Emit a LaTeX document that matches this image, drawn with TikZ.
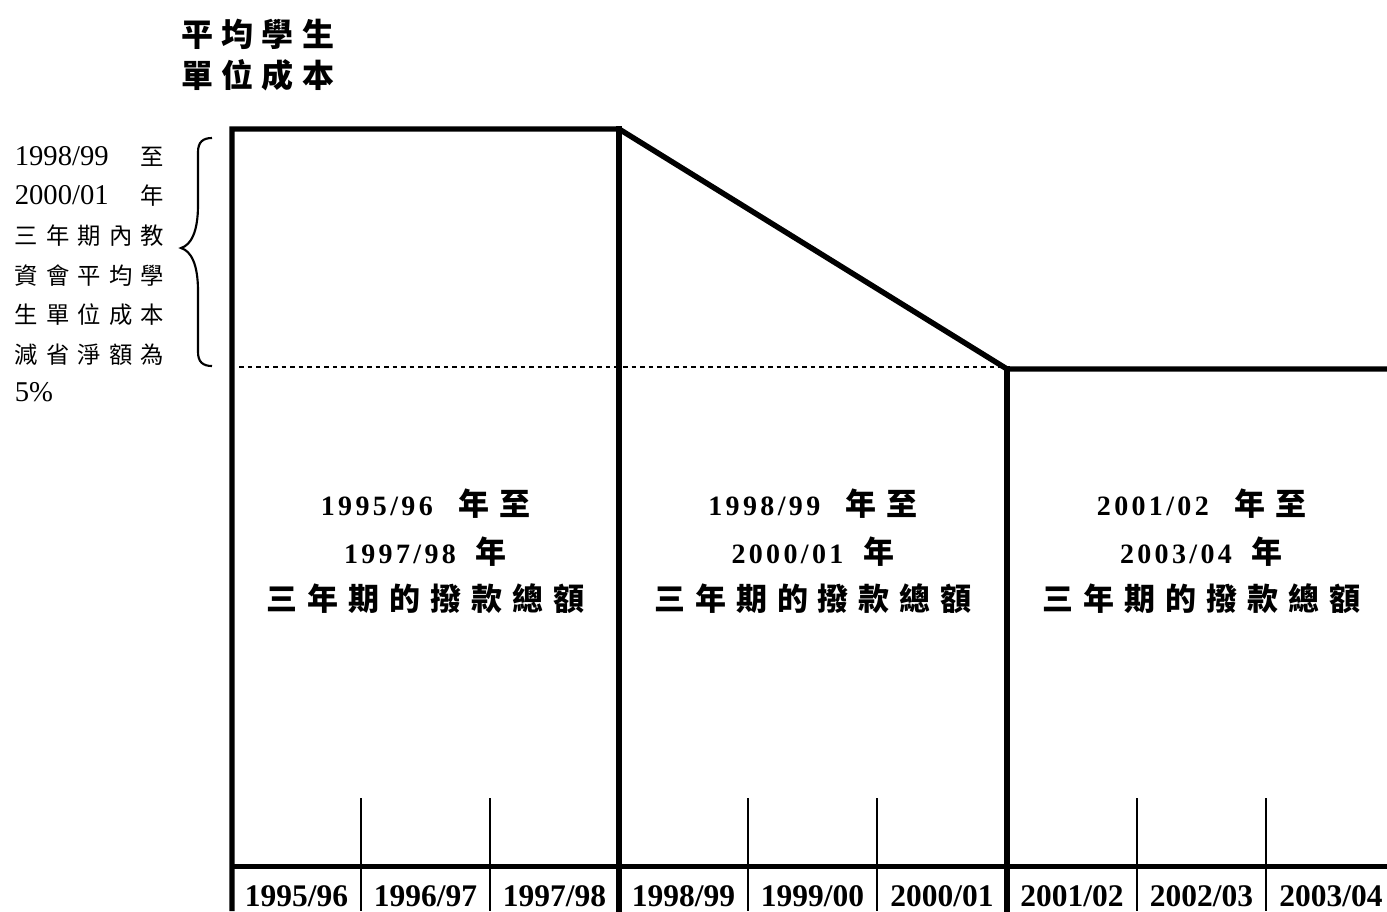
\documentclass[tikz,border=0pt]{standalone}
\usepackage{fontspec}
\setmainfont{Liberation Serif}
\newfontfamily\cjk{Noto Sans CJK TC}
\newfontfamily\cjksp{Noto Sans CJK TC}[LetterSpace=32]
\newfontfamily\cjkti{Noto Sans CJK TC}[LetterSpace=26]
\newfontfamily\tmsp{Liberation Serif}[LetterSpace=12]
\newcommand\midlat{\tmsp\bfseries\fontsize{21pt}{25pt}\selectfont}
\newcommand\midcjk{\cjksp\bfseries\fontsize{23.25pt}{28pt}\selectfont}
\newcommand\ticjk{\cjkti\bfseries\fontsize{24pt}{29pt}\selectfont}
\newcommand\lcjk{\cjk\fontsize{17.5pt}{21pt}\selectfont}
\newcommand\llat{\fontsize{21.5pt}{25pt}\selectfont}
\begin{document}
\begin{tikzpicture}[x=0.75pt,y=-0.75pt,
  thickline/.style={line width=4.1pt, line join=miter},
  vthick/.style={line width=4.1pt, line cap=rect},
  baseline/.style={line width=3.75pt},
  thinline/.style={line width=1.2pt},
  dashline/.style={line width=1pt, dash pattern=on 3.4pt off 3pt},
  bracestyle/.style={line width=1.6pt},
  txt/.style={inner sep=0pt, anchor=base},
  ltxt/.style={inner sep=0pt, anchor=base west},
  yearlab/.style={inner sep=0pt, anchor=base, font=\fontsize{23.6pt}{28pt}\selectfont\bfseries}]
\useasboundingbox (0,0) rectangle (1387,911);

% coordinates
\coordinate (bl) at (232,911);
\coordinate (tl) at (232,129);
\coordinate (tm) at (619,129);
\coordinate (bm) at (619,911);
\coordinate (rm) at (1007,369);
\coordinate (br) at (1007,911);
\coordinate (re) at (1387,369);
\coordinate (axl) at (232,866);
\coordinate (axr) at (1390,866);
\coordinate (dl) at (239,367);
\coordinate (dr) at (1004,367);

% main outline
\draw[thickline] (bl) -- (tl) -- (tm) -- (rm) -- (re);
\draw[vthick] (tm) -- (bm);
\draw[vthick] (rm) -- (br);
\draw[baseline] (axl) -- (axr);
\draw[dashline] (dl) -- (dr);

% thin ticks
\foreach \xx/\nm in {361/a,490/b,748/c,877/d,1137/e,1266/f}{
  \coordinate (t\nm) at (\xx,798);
  \coordinate (u\nm) at (\xx,911);
  \draw[thinline] (t\nm) -- (u\nm);
}

% brace
\draw[bracestyle] (212,138) .. controls (203,138) and (198,142) .. (198,152) -- (198,205)
  .. controls (198,232) and (191,245) .. (181,248)
  .. controls (191,251) and (198,264) .. (198,291) -- (198,352)
  .. controls (198,362) and (203,366) .. (212,366);

% title
\node[ltxt] (ti1) at (181,46) {\ticjk 平均學生};
\node[ltxt] (ti2) at (181,87) {\ticjk 單位成本};

% left text
\node[ltxt] (l1) at (14.5,165) {\hbox to 112pt{\llat 1998/99\hfill\lcjk 至}};
\node[ltxt] (l2) at (14.5,204) {\hbox to 112pt{\llat 2000/01\hfill\lcjk 年}};
\node[ltxt] (l3) at (14.5,244) {\hbox to 112pt{\lcjk 三\hfill 年\hfill 期\hfill 內\hfill 教}};
\node[ltxt] (l4) at (14.5,284) {\hbox to 112pt{\lcjk 資\hfill 會\hfill 平\hfill 均\hfill 學}};
\node[ltxt] (l5) at (14.5,323) {\hbox to 112pt{\lcjk 生\hfill 單\hfill 位\hfill 成\hfill 本}};
\node[ltxt] (l6) at (14.5,363) {\hbox to 112pt{\lcjk 減\hfill 省\hfill 淨\hfill 額\hfill 為}};
\node[ltxt] (l7) at (14.5,401) {\llat 5\%};

% middle texts
\node[txt] (a1) at (425.5,515) {{\midlat 1995/96}\hspace{19pt}{\midcjk 年至}};
\node[txt] (a2) at (425.5,563) {{\midlat 1997/98}\hspace{15pt}{\midcjk 年}};
\node[txt] (a3) at (425.5,610) {\midcjk 三年期的撥款總額};
\node[txt] (b1) at (813,515) {{\midlat 1998/99}\hspace{19pt}{\midcjk 年至}};
\node[txt] (b2) at (813,563) {{\midlat 2000/01}\hspace{15pt}{\midcjk 年}};
\node[txt] (b3) at (813,610) {\midcjk 三年期的撥款總額};
\node[txt] (c1) at (1201.5,515) {{\midlat 2001/02}\hspace{19pt}{\midcjk 年至}};
\node[txt] (c2) at (1201.5,563) {{\midlat 2003/04}\hspace{15pt}{\midcjk 年}};
\node[txt] (c3) at (1201.5,610) {\midcjk 三年期的撥款總額};

% year labels
\node[yearlab] (y1) at (296.5,906) {1995/96};
\node[yearlab] (y2) at (425.5,906) {1996/97};
\node[yearlab] (y3) at (554.5,906) {1997/98};
\node[yearlab] (y4) at (683.5,906) {1998/99};
\node[yearlab] (y5) at (812.5,906) {1999/00};
\node[yearlab] (y6) at (942,906) {2000/01};
\node[yearlab] (y7) at (1072,906) {2001/02};
\node[yearlab] (y8) at (1201.5,906) {2002/03};
\node[yearlab] (y9) at (1331,906) {2003/04};
\end{tikzpicture}
\end{document}
